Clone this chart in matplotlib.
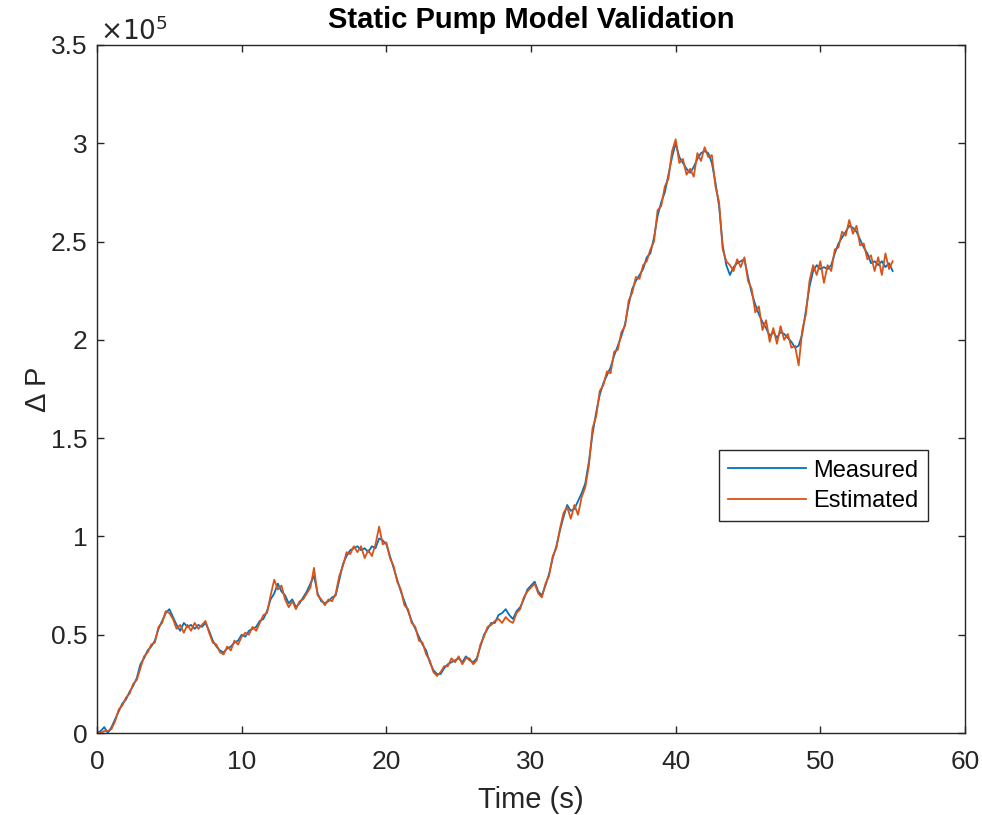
import numpy as np
import matplotlib.pyplot as plt
from matplotlib.ticker import FuncFormatter

plt.rcParams['font.family'] = ['Liberation Sans', 'DejaVu Sans']

# time axis, 0.25 s steps
t = np.arange(0, 55.01, 0.25)

# measured pressure difference (x1e5)
measured = [
    0.00, 0.01, 0.03, 0.00, 0.03, 0.07, 0.11, 0.15, 0.17, 0.21, 0.24, 0.28,
    0.35, 0.38, 0.42, 0.44, 0.47, 0.53, 0.57, 0.61, 0.63, 0.59, 0.55, 0.52,
    0.56, 0.54, 0.55, 0.53, 0.55, 0.54, 0.56, 0.52, 0.47, 0.44, 0.42, 0.41,
    0.43, 0.44, 0.46, 0.47, 0.50, 0.49, 0.52, 0.53, 0.54, 0.57, 0.58, 0.62,
    0.68, 0.71, 0.76, 0.72, 0.70, 0.66, 0.68, 0.64, 0.66, 0.69, 0.72, 0.76,
    0.80, 0.71, 0.67, 0.66, 0.67, 0.69, 0.70, 0.78, 0.86, 0.90, 0.93, 0.94,
    0.95, 0.93, 0.94, 0.92, 0.95, 0.94, 0.99, 0.98, 0.96, 0.90, 0.84, 0.78,
    0.72, 0.67, 0.62, 0.57, 0.53, 0.49, 0.45, 0.42, 0.36, 0.32, 0.30, 0.30,
    0.33, 0.35, 0.36, 0.37, 0.38, 0.36, 0.39, 0.37, 0.36, 0.38, 0.44, 0.50,
    0.53, 0.56, 0.56, 0.60, 0.61, 0.63, 0.60, 0.58, 0.62, 0.64, 0.68, 0.73,
    0.75, 0.77, 0.72, 0.70, 0.75, 0.81, 0.89, 0.95, 1.03, 1.10, 1.16, 1.13,
    1.14, 1.18, 1.22, 1.27, 1.38, 1.52, 1.63, 1.72, 1.78, 1.82, 1.86, 1.92,
    1.97, 2.02, 2.08, 2.18, 2.26, 2.30, 2.33, 2.36, 2.42, 2.44, 2.52, 2.63,
    2.70, 2.75, 2.84, 2.93, 3.00, 2.93, 2.90, 2.87, 2.85, 2.88, 2.92, 2.95,
    2.96, 2.95, 2.90, 2.80, 2.68, 2.48, 2.38, 2.33, 2.37, 2.39, 2.40, 2.41,
    2.32, 2.24, 2.18, 2.13, 2.09, 2.06, 2.02, 2.04, 2.01, 2.04, 2.03, 2.01,
    1.99, 1.96, 1.97, 2.03, 2.15, 2.27, 2.35, 2.38, 2.36, 2.37, 2.36, 2.38,
    2.44, 2.49, 2.52, 2.55, 2.58, 2.57, 2.55, 2.51, 2.47, 2.44, 2.39, 2.40,
    2.38, 2.40, 2.37, 2.39, 2.35,
]

# model estimate (x1e5)
estimated = [
    0.00, 0.00, 0.01, 0.01, 0.02, 0.06, 0.12, 0.14, 0.18, 0.20, 0.25, 0.27,
    0.33, 0.39, 0.41, 0.45, 0.46, 0.54, 0.56, 0.62, 0.61, 0.58, 0.53, 0.55,
    0.51, 0.55, 0.52, 0.56, 0.53, 0.55, 0.57, 0.51, 0.46, 0.45, 0.41, 0.40,
    0.44, 0.42, 0.47, 0.45, 0.49, 0.51, 0.50, 0.54, 0.52, 0.56, 0.60, 0.61,
    0.70, 0.78, 0.73, 0.75, 0.68, 0.64, 0.67, 0.63, 0.67, 0.68, 0.71, 0.74,
    0.84, 0.70, 0.68, 0.65, 0.68, 0.67, 0.71, 0.80, 0.85, 0.92, 0.91, 0.95,
    0.92, 0.95, 0.89, 0.93, 0.90, 0.96, 1.05, 0.96, 0.97, 0.89, 0.85, 0.77,
    0.73, 0.65, 0.63, 0.56, 0.54, 0.47, 0.46, 0.40, 0.37, 0.31, 0.29, 0.31,
    0.34, 0.34, 0.38, 0.36, 0.39, 0.35, 0.38, 0.38, 0.35, 0.37, 0.45, 0.49,
    0.54, 0.55, 0.57, 0.58, 0.56, 0.59, 0.57, 0.56, 0.61, 0.63, 0.69, 0.72,
    0.74, 0.76, 0.71, 0.69, 0.76, 0.80, 0.90, 0.94, 1.04, 1.12, 1.15, 1.09,
    1.16, 1.11, 1.20, 1.25, 1.36, 1.55, 1.61, 1.74, 1.77, 1.84, 1.83, 1.94,
    1.95, 2.04, 2.07, 2.20, 2.24, 2.32, 2.31, 2.38, 2.40, 2.46, 2.50, 2.66,
    2.68, 2.78, 2.82, 2.96, 3.02, 2.90, 2.92, 2.84, 2.87, 2.83, 2.95, 2.91,
    2.98, 2.93, 2.94, 2.78, 2.70, 2.46, 2.40, 2.38, 2.35, 2.41, 2.37, 2.42,
    2.30, 2.26, 2.14, 2.17, 2.05, 2.10, 1.99, 2.06, 1.98, 2.07, 2.00, 2.03,
    1.96, 1.97, 1.87, 2.05, 2.13, 2.30, 2.38, 2.33, 2.40, 2.29, 2.38, 2.35,
    2.46, 2.47, 2.55, 2.53, 2.61, 2.54, 2.58, 2.48, 2.49, 2.41, 2.43, 2.35,
    2.42, 2.33, 2.44, 2.36, 2.40,
]

fig = plt.figure(figsize=(9.82, 8.15), dpi=100)
ax = fig.add_axes([0.0988, 0.1006, 0.8839, 0.8442])

ax.plot(t, np.array(measured) * 1e5, color='#0072BD', linewidth=1.3, label='Measured')
ax.plot(t, np.array(estimated) * 1e5, color='#D95319', linewidth=1.3, label='Estimated')

ax.set_xlim(0, 60)
ax.set_ylim(0, 3.5e5)
ax.set_xticks(np.arange(0, 61, 10))
ax.set_yticks(np.arange(0, 3.51e5, 0.5e5))
ax.yaxis.set_major_formatter(FuncFormatter(lambda v, p: f"{v / 1e5:g}"))

dark = '#262626'
for s in ax.spines.values():
    s.set_color(dark)
    s.set_linewidth(1.0)
ax.tick_params(direction='in', length=5, width=1.0, colors=dark,
               labelsize=19, top=True, right=True)
ax.tick_params(axis='x', pad=12)
ax.tick_params(axis='y', pad=7)

ax.text(0.003, 1.0, r'$\times10^{5}$', transform=ax.transAxes, ha='left', va='bottom',
        fontsize=19, color=dark)

ax.set_title('Static Pump Model Validation', fontsize=21, fontweight='bold', pad=12)
ax.set_xlabel('Time (s)', fontsize=21, color=dark, labelpad=9)
ax.set_ylabel('Δ P', fontsize=21, color=dark, labelpad=-1)

leg = ax.legend(loc='upper right', bbox_to_anchor=(0.957, 0.411), fontsize=17,
                fancybox=False, edgecolor=dark, framealpha=1, handlelength=3.3,
                borderaxespad=0, handletextpad=0.3, labelspacing=0.35,
                borderpad=0.4)
leg.get_frame().set_linewidth(1.0)

fig.savefig('out.png', dpi=100)
